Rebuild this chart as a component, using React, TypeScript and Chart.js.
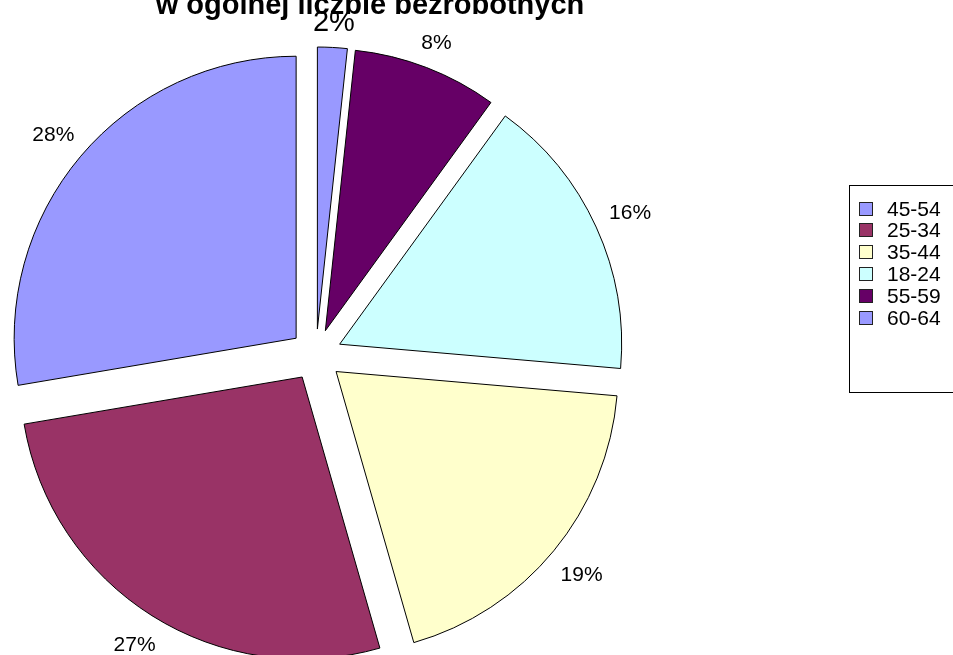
import React, { useEffect, useRef } from 'react';
import { Chart, registerables } from 'chart.js';

Chart.register(...registerables);

// ---- data ----
const TITLE = 'w ogólnej liczbie bezrobotnych';
// slices clockwise from 12 o'clock
const categories = ['60-64', '55-59', '18-24', '35-44', '25-34', '45-54'];
const shares = [1.7, 8.3, 16.4, 19.2, 26.8, 27.7];
const colors = ['#9999FF', '#660066', '#CCFFFF', '#FFFFCC', '#993366', '#9999FF'];
// legend order as shown in the box
const legendOrder = ['45-54', '25-34', '35-44', '18-24', '55-59', '60-64'];

// ---- style ----
const FONT = "'Liberation Sans', Arial, sans-serif";
const RADIUS = 282;
const EXPLODE = 26;
const LABEL_GAP = 15;
const labelFontSizes = [29, 21, 21, 21, 21, 21];
const CAP = 0.716;

const piePlugin = {
  id: 'explodedPie',
  beforeDatasetDraw(chart: any, args: any) {
    const ctx = chart.ctx;
    args.meta.data.forEach((arc: any) => {
      const mid = (arc.startAngle + arc.endAngle) / 2;
      ctx.save();
      ctx.translate(Math.cos(mid) * EXPLODE, Math.sin(mid) * EXPLODE);
      arc.draw(ctx);
      ctx.restore();
    });
    return false;
  },
  afterDatasetsDraw(chart: any) {
    const ctx = chart.ctx;
    const meta = chart.getDatasetMeta(0);
    const data: number[] = chart.data.datasets[0].data;
    const total = data.reduce((a, b) => a + b, 0);

    // title (first line lies above the visible area)
    ctx.save();
    ctx.fillStyle = '#000';
    ctx.font = `bold 29px ${FONT}`;
    ctx.textAlign = 'center';
    ctx.textBaseline = 'alphabetic';
    ctx.fillText(TITLE, 370, 14);
    ctx.restore();

    // percentage labels
    meta.data.forEach((arc: any, i: number) => {
      const mid = (arc.startAngle + arc.endAngle) / 2;
      const size = labelFontSizes[i];
      const text = Math.round((data[i] / total) * 100) + '%';
      ctx.save();
      ctx.font = `${size}px ${FONT}`;
      const w = ctx.measureText(text).width;
      const h = size * CAP;
      const half = Math.abs(Math.cos(mid)) * w / 2 + Math.abs(Math.sin(mid)) * h / 2;
      const r = arc.outerRadius + EXPLODE + LABEL_GAP + half;
      const x = arc.x + Math.cos(mid) * r;
      const y = arc.y + Math.sin(mid) * r;
      ctx.fillStyle = '#000';
      ctx.textAlign = 'center';
      ctx.textBaseline = 'alphabetic';
      ctx.fillText(text, x, y + h / 2);
      ctx.restore();
    });

    // legend box
    const lx = 849.5, ly = 185.5, lw = 110, lh = 207;
    ctx.save();
    ctx.strokeStyle = '#000';
    ctx.lineWidth = 1;
    ctx.strokeRect(lx, ly, lw, lh);
    const labels: string[] = chart.data.labels;
    const bg: string[] = chart.data.datasets[0].backgroundColor;
    ctx.font = `21px ${FONT}`;
    ctx.textAlign = 'left';
    ctx.textBaseline = 'alphabetic';
    legendOrder.forEach((name, k) => {
      const idx = labels.indexOf(name);
      const cy = 208 + k * 21.8;
      ctx.fillStyle = bg[idx];
      ctx.fillRect(859.5, Math.round(cy - 6.5) + 0.5, 13, 13);
      ctx.strokeStyle = '#222';
      ctx.strokeRect(859.5, Math.round(cy - 6.5) + 0.5, 13, 13);
      ctx.fillStyle = '#000';
      ctx.fillText(name, 887, cy + (21 * CAP) / 2);
    });
    ctx.restore();
  },
};

export default function App() {
  const ref = useRef<HTMLCanvasElement | null>(null);
  useEffect(() => {
    if (!ref.current) return;
    const chart = new Chart(ref.current, {
      type: 'pie',
      data: {
        labels: categories,
        datasets: [
          {
            data: shares,
            backgroundColor: colors,
            borderColor: '#000',
            borderWidth: 1,
            borderJoinStyle: 'miter',
            radius: RADIUS,
            clip: false,
          } as any,
        ],
      },
      options: {
        responsive: false,
        animation: false,
        events: [],
        layout: { padding: { left: 0, right: 321, top: 55, bottom: 0 } },
        plugins: {
          legend: { display: false },
          title: { display: false },
          tooltip: { enabled: false },
        },
      },
      plugins: [piePlugin],
    });
    return () => chart.destroy();
  }, []);
  return (
    <div style={{ position: 'fixed', left: 0, top: 0, width: 953, height: 655, background: '#fff' }}>
      <canvas ref={ref} width={953} height={655} style={{ display: 'block' }} />
    </div>
  );
}
